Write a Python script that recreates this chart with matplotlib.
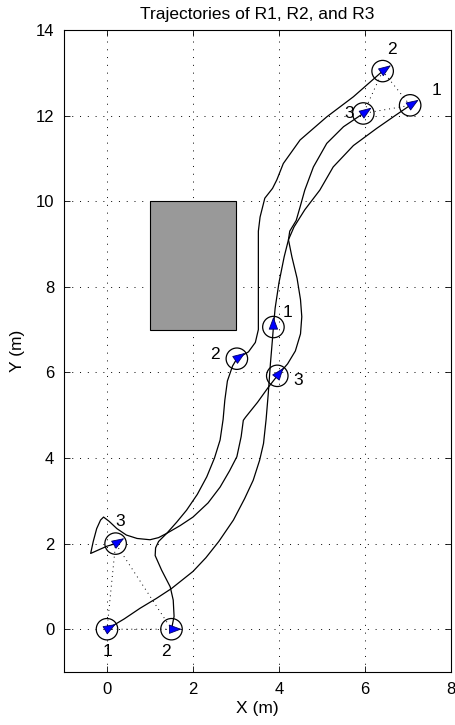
import matplotlib
matplotlib.use("Agg")
import matplotlib.pyplot as plt
from matplotlib.patches import Circle, Rectangle
import numpy as np

plt.rcParams['font.family'] = ['Liberation Sans', 'DejaVu Sans']

# Trajectories (x, y)
r1_x = [0.0, 0.40, 0.77, 1.15, 1.50, 2.00, 2.30, 2.60, 2.94, 3.20, 3.40, 3.55, 3.64, 3.70, 3.75, 3.80, 3.85, 3.87,
        3.91, 4.00, 4.12, 4.22, 4.35, 4.60, 4.95, 5.26, 5.73, 6.27, 6.70, 7.05]
r1_y = [0.0, 0.24, 0.49, 0.72, 0.95, 1.35, 1.67, 2.05, 2.55, 3.05, 3.48, 3.95, 4.34, 4.90, 5.50, 6.20, 6.80, 7.06,
        7.50, 8.10, 8.70, 9.10, 9.40, 9.80, 10.26, 10.80, 11.30, 11.70, 12.00, 12.24]

r2_x = [1.50, 1.56, 1.54, 1.47, 1.27, 1.12, 1.13, 1.20, 1.39, 1.62, 1.85, 2.10, 2.32, 2.50, 2.63, 2.70, 2.74, 2.80,
        2.92, 3.02, 3.29, 3.45, 3.52, 3.52, 3.52, 3.52, 3.56, 3.67, 3.85, 3.95, 4.10, 4.49, 5.11, 5.73, 6.41]
r2_y = [0.0, 0.30, 0.68, 0.99, 1.38, 1.72, 1.90, 2.05, 2.24, 2.50, 2.78, 3.15, 3.56, 4.00, 4.42, 4.90, 5.35, 5.80,
        6.15, 6.32, 6.48, 6.70, 7.00, 7.70, 8.50, 9.30, 9.63, 10.07, 10.30, 10.50, 10.88, 11.43, 11.97, 12.44, 13.04]

r3_x = [0.20, 0.00, -0.18, -0.38, -0.32, -0.24, -0.15, -0.08, 0.05, 0.23, 0.45, 0.70, 1.00, 1.20, 1.39, 1.70, 2.00,
        2.35, 2.63, 2.85, 3.02, 3.12, 3.17, 3.22, 3.50, 3.75, 3.96, 4.20, 4.38, 4.50, 4.53, 4.50, 4.42, 4.30, 4.22,
        4.25, 4.40, 4.50, 4.60, 4.80, 5.11, 5.50, 5.96]
r3_y = [2.00, 1.94, 1.86, 1.77, 2.05, 2.35, 2.55, 2.62, 2.52, 2.35, 2.20, 2.12, 2.09, 2.14, 2.24, 2.42, 2.62,
        2.95, 3.32, 3.70, 4.03, 4.50, 4.88, 4.95, 5.30, 5.65, 5.92, 6.20, 6.50, 6.90, 7.30, 7.70, 8.20, 8.70, 9.10,
        9.30, 9.55, 9.90, 10.26, 10.80, 11.35, 11.74, 12.05]

# Robot poses: start, middle, end  (x, y, heading in degrees)
r1_pose_x = [0.0, 3.87, 7.05]
r1_pose_y = [0.0, 7.06, 12.24]
r1_head = [30, 90, 33]
r2_pose_x = [1.50, 3.02, 6.41]
r2_pose_y = [0.0, 6.32, 13.04]
r2_head = [0, 35, 35]
r3_pose_x = [0.20, 3.96, 5.96]
r3_pose_y = [2.00, 5.92, 12.05]
r3_head = [32, 52, 35]

# label positions
lab_text = ['1', '2', '3', '1', '2', '3', '1', '2', '3']
lab_x = [0.0, 1.37, 0.30, 4.19, 2.51, 4.44, 7.67, 6.63, 5.63]
lab_y = [-0.52, -0.52, 2.52, 7.40, 6.42, 5.82, 12.59, 13.55, 12.05]

# obstacle
obs_x, obs_y, obs_w, obs_h = 1.0, 7.0, 2.0, 3.0

fig = plt.figure(figsize=(4.55, 7.25), dpi=100)
ax = fig.add_axes([64/455, 53/725, 387/455, 642/725])
ax.set_xlim(-1, 8)
ax.set_ylim(-1, 14)
ax.set_xticks([0, 2, 4, 6, 8])
ax.set_yticks(list(range(0, 15, 2)))
ax.tick_params(direction='in', length=4, width=0.6, top=True, right=True, labelsize=12, pad=7)
for s in ax.spines.values():
    s.set_linewidth(0.8)
ax.grid(True, linestyle=(0, (1, 7)), color='black', linewidth=0.7)
ax.set_axisbelow(True)

ax.add_patch(Rectangle((obs_x, obs_y), obs_w, obs_h, facecolor='#999999', edgecolor='black', lw=0.8, zorder=2))

for xs, ys in [(r1_x, r1_y), (r2_x, r2_y), (r3_x, r3_y)]:
    ax.plot(xs, ys, color='black', lw=0.9, zorder=3)

# formation lines at start and end
for i in [0, 2]:
    fx = [r1_pose_x[i], r2_pose_x[i], r3_pose_x[i], r1_pose_x[i]]
    fy = [r1_pose_y[i], r2_pose_y[i], r3_pose_y[i], r1_pose_y[i]]
    ax.plot(fx, fy, color='black', lw=0.7, linestyle=(0, (1, 4)), zorder=3)

R = 0.25
for px, py, ph in [(r1_pose_x, r1_pose_y, r1_head), (r2_pose_x, r2_pose_y, r2_head), (r3_pose_x, r3_pose_y, r3_head)]:
    for x, y, h in zip(px, py, ph):
        ax.add_patch(Circle((x, y), R, fill=False, edgecolor='black', lw=0.9, zorder=4))
        tx = x + 0.95 * R * np.cos(np.radians(h))
        ty = y + 0.95 * R * np.sin(np.radians(h))
        ax.annotate('', xy=(tx, ty), xytext=(x, y),
                    arrowprops=dict(arrowstyle='-|>,head_length=0.8,head_width=0.3', color='black',
                                    fc='blue', ec='#000066', lw=0.6, shrinkA=0, shrinkB=0), zorder=5)

for t, x, y in zip(lab_text, lab_x, lab_y):
    ax.text(x, y, t, fontsize=12.5, ha='center', va='center', zorder=6)

ax.set_title('Trajectories of R1, R2, and R3', fontsize=12.5, pad=8)
ax.set_xlabel('X (m)', fontsize=12.5, labelpad=3)
ax.set_ylabel('Y (m)', fontsize=12.5, labelpad=8)

fig.savefig('out.png', dpi=100)
